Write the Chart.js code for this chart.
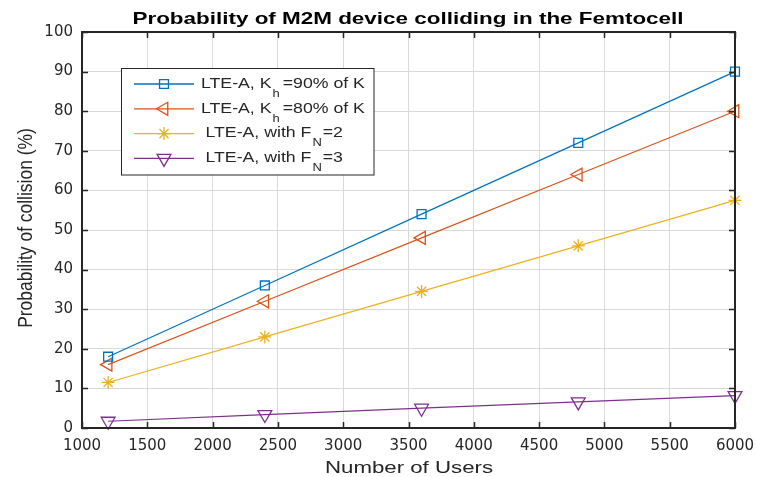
<!DOCTYPE html>
<html><head><meta charset="utf-8">
<script src="https://cdn.jsdelivr.net/npm/chart.js@4.4.1/dist/chart.umd.min.js"></script>
<style>html,body{margin:0;padding:0;background:#fff;overflow:hidden}#wrap{width:757px;height:477px;position:relative}</style>
</head><body><div id="wrap"><canvas id="c" width="757" height="477"></canvas></div>
<script>
// ---- data ----
const users = [1200, 2400, 3600, 4800, 6000];
const kh90 = [18, 36, 54, 72, 90];
const kh80 = [16, 32, 48, 64, 80];
const fn2 = [11.5, 23, 34.5, 46, 57.5];
const fn3 = [1.7, 3.4, 5.0, 6.6, 8.2];
const xTicks = [1000, 1500, 2000, 2500, 3000, 3500, 4000, 4500, 5000, 5500, 6000];
const yTicks = [0, 10, 20, 30, 40, 50, 60, 70, 80, 90, 100];
const titleText = 'Probability of M2M device colliding in the Femtocell';
const xLabel = 'Number of Users';
const yLabel = 'Probability of collision (%)';
const legendPre = ['LTE-A, K', 'LTE-A, K', 'LTE-A, with F', 'LTE-A, with F'];
const legendSub = ['h', 'h', 'N', 'N'];
const legendPost = ['=90% of K', '=80% of K', '=2', '=3'];

// ---- styles ----
const colors = ['#0072BD', '#D95319', '#EDB120', '#7E2F8E'];
const styles = [
  {pointStyle: 'rect', radius: 6.3, rotation: 0},
  {pointStyle: 'triangle', radius: 7.5, rotation: -90},
  {pointStyle: 'star', radius: 6.5, rotation: 0},
  {pointStyle: 'triangle', radius: 8, rotation: 180}
];
const seriesValues = [kh90, kh80, fn2, fn3];
const TXT = '#262626';

function pts(vals) { return users.map((u, i) => ({x: u, y: vals[i]})); }

const datasets = seriesValues.map((vals, i) => ({
  data: pts(vals),
  borderColor: colors[i],
  borderWidth: 1.2,
  pointStyle: styles[i].pointStyle,
  pointRadius: styles[i].radius,
  pointRotation: styles[i].rotation,
  pointBorderColor: colors[i],
  pointBackgroundColor: 'rgba(0,0,0,0)',
  pointBorderWidth: 1.3,
  pointHoverRadius: styles[i].radius,
  tension: 0,
  fill: false,
  clip: false
}));

function stretchText(ctx, s, x, y, font, sx, align, color) {
  ctx.save();
  ctx.font = font;
  ctx.fillStyle = color;
  ctx.textBaseline = 'alphabetic';
  ctx.translate(x, y);
  ctx.scale(sx, 1);
  ctx.textAlign = align;
  ctx.fillText(s, 0, 0);
  ctx.restore();
}

function marker(ctx, st, x, y, color) {
  const r = st.radius;
  ctx.save();
  ctx.strokeStyle = color;
  ctx.lineWidth = 1.3;
  ctx.beginPath();
  if (st.pointStyle === 'rect') {
    const s = Math.SQRT1_2 * r;
    ctx.rect(x - s, y - s, 2 * s, 2 * s);
  } else if (st.pointStyle === 'triangle') {
    let rad = st.rotation * Math.PI / 180;
    ctx.moveTo(x + Math.sin(rad) * r, y - Math.cos(rad) * r);
    rad += 2 * Math.PI / 3;
    ctx.lineTo(x + Math.sin(rad) * r, y - Math.cos(rad) * r);
    rad += 2 * Math.PI / 3;
    ctx.lineTo(x + Math.sin(rad) * r, y - Math.cos(rad) * r);
    ctx.closePath();
  } else {
    for (let k = 0; k < 4; k++) {
      const a = k * Math.PI / 4;
      ctx.moveTo(x - Math.cos(a) * r, y - Math.sin(a) * r);
      ctx.lineTo(x + Math.cos(a) * r, y + Math.sin(a) * r);
    }
  }
  ctx.stroke();
  ctx.restore();
}

const decor = {
  id: 'decor',
  afterDatasetsDraw(chart) {
    const ctx = chart.ctx;
    const a = chart.chartArea;
    const xs = chart.scales.x, ys = chart.scales.y;
    ctx.save();
    // inward ticks
    ctx.strokeStyle = TXT;
    ctx.lineWidth = 1.5;
    ctx.beginPath();
    xTicks.forEach(v => {
      const px = Math.round(xs.getPixelForValue(v)) + 0.5;
      ctx.moveTo(px, a.bottom); ctx.lineTo(px, a.bottom - 6);
      ctx.moveTo(px, a.top); ctx.lineTo(px, a.top + 6);
    });
    yTicks.forEach(v => {
      const py = Math.round(ys.getPixelForValue(v)) + 0.5;
      ctx.moveTo(a.left, py); ctx.lineTo(a.left + 6, py);
      ctx.moveTo(a.right, py); ctx.lineTo(a.right - 6, py);
    });
    ctx.stroke();
    // box
    ctx.lineWidth = 2;
    ctx.strokeRect(a.left, a.top, a.right - a.left, a.bottom - a.top);

    // legend
    const lx = 121.5, ly = 68.5, lw = 252.5, lh = 106.5;
    ctx.fillStyle = '#ffffff';
    ctx.fillRect(lx, ly, lw, lh);
    ctx.lineWidth = 1;
    ctx.strokeStyle = TXT;
    ctx.strokeRect(lx, ly, lw, lh);
    const sx = 1.18;
    const startX = [201, 201, 205.5, 205.5];
    const postGap = [3, 3, 1, 1];
    for (let i = 0; i < 4; i++) {
      const cy = 84 + 24.8 * i;
      ctx.strokeStyle = colors[i];
      ctx.lineWidth = 1.3;
      ctx.beginPath();
      ctx.moveTo(134, cy); ctx.lineTo(194, cy);
      ctx.stroke();
      marker(ctx, styles[i], 164, cy, colors[i]);
      const base = cy + 3.7;
      let x = startX[i];
      stretchText(ctx, legendPre[i], x, base, '15px "Liberation Sans", Arial, sans-serif', sx, 'left', TXT);
      ctx.font = '15px "Liberation Sans", Arial, sans-serif';
      x += ctx.measureText(legendPre[i]).width * sx + 1;
      stretchText(ctx, legendSub[i], x, base + 9, '11px "Liberation Sans", Arial, sans-serif', sx, 'left', TXT);
      ctx.font = '11px "Liberation Sans", Arial, sans-serif';
      x += ctx.measureText(legendSub[i]).width * sx + postGap[i];
      stretchText(ctx, legendPost[i], x, base, '15px "Liberation Sans", Arial, sans-serif', sx, 'left', TXT);
    }

    // title
    stretchText(ctx, titleText, 408, 24, 'bold 17px "Liberation Sans", Arial, sans-serif', 1.32, 'center', '#000');
    // x label
    stretchText(ctx, xLabel, 409, 473, '16px "Liberation Sans", Arial, sans-serif', 1.39, 'center', TXT);
    // y label
    ctx.save();
    ctx.translate(31.7, 228);
    ctx.rotate(-Math.PI / 2);
    ctx.scale(1.09, 1.25);
    ctx.font = '16px "Liberation Sans", Arial, sans-serif';
    ctx.fillStyle = TXT;
    ctx.textAlign = 'center';
    ctx.textBaseline = 'alphabetic';
    ctx.fillText(yLabel, 0, 0);
    ctx.restore();

    ctx.restore();
  }
};

new Chart(document.getElementById('c'), {
  type: 'line',
  data: {datasets},
  options: {
    responsive: false,
    animation: false,
    devicePixelRatio: 1,
    layout: {padding: {top: 32, right: 22, left: 0, bottom: 0}},
    plugins: {legend: {display: false}, title: {display: false}, tooltip: {enabled: false}},
    events: [],
    scales: {
      x: {
        type: 'linear', min: 1000, max: 6000,
        afterBuildTicks: s => { s.ticks = xTicks.map(v => ({value: v})); },
        afterFit: s => { s.height = 49; s.paddingLeft = 0; s.paddingRight = 0; },
        grid: {color: '#d9d9d9', lineWidth: 1, drawTicks: false},
        border: {display: false},
        ticks: {color: TXT, font: {family: '"DejaVu Sans", sans-serif', size: 15}, padding: 9, maxRotation: 0, autoSkip: false,
                callback: v => String(v)}
      },
      y: {
        type: 'linear', min: 0, max: 100,
        afterBuildTicks: s => { s.ticks = yTicks.map(v => ({value: v})); },
        afterFit: s => { s.width = 82; s.paddingTop = 0; s.paddingBottom = 0; },
        grid: {color: '#d9d9d9', lineWidth: 1, drawTicks: false},
        border: {display: false},
        ticks: {color: TXT, font: {family: '"DejaVu Sans", sans-serif', size: 15}, padding: 9, autoSkip: false,
                callback: v => String(v)}
      }
    }
  },
  plugins: [decor]
});
</script></body></html>
